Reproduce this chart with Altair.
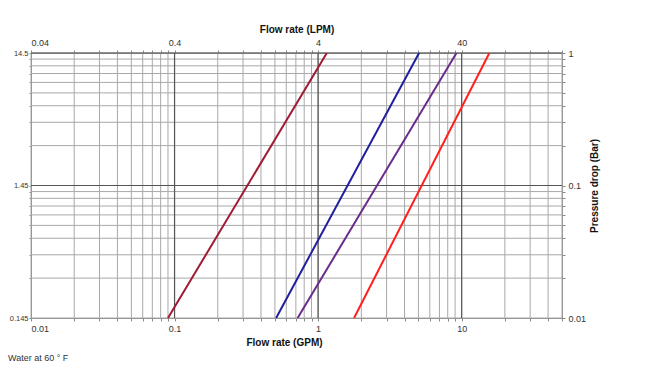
import altair as alt
import pandas as pd

# ---- data ----
series = ["Series 1", "Series 2", "Series 3", "Series 4"]
colors = ["#9e1b32", "#1f1f9e", "#6b2a8c", "#ff1f1f"]
gpm_at_low = [0.09, 0.51, 0.72, 1.78]     # flow (GPM) where curve hits 0.01 bar
gpm_at_high = [1.15, 5.05, 9.2, 15.6]     # flow (GPM) where curve hits 1 bar
bar_low = [0.01, 0.01, 0.01, 0.01]
bar_high = [1.0, 1.0, 1.0, 1.0]

x_minor = [0.01, 0.02, 0.03, 0.04, 0.05, 0.06, 0.07, 0.08, 0.09,
           0.1, 0.2, 0.3, 0.4, 0.5, 0.6, 0.7, 0.8, 0.9,
           1, 2, 3, 4, 5, 6, 7, 8, 9,
           10, 20, 30, 40, 50]
x_major = [0.1, 1, 10]
y_minor = [0.01, 0.02, 0.03, 0.04, 0.05, 0.06, 0.07, 0.08, 0.09,
           0.1, 0.2, 0.3, 0.4, 0.5, 0.6, 0.7, 0.8, 0.9, 1]
y_major = [0.1, 1]

x_label_vals = [0.01, 0.1, 1, 10]
gpm_labels = ["0.01", "0.1", "1", "10"]
lpm_labels = ["0.04", "0.4", "4", "40"]
y_label_vals = [0.01, 0.1, 1]
psi_labels = ["0.145", "1.45", "14.5"]
bar_labels = ["0.01", "0.1", "1"]


def label_expr(vals, labels):
    expr = "''"
    for v, l in reversed(list(zip(vals, labels))):
        expr = f"(abs(datum.value - {v}) < {v}*1e-6) ? '{l}' : ({expr})"
    return expr


rows = []
for s, a, b, lo, hi in zip(series, gpm_at_low, gpm_at_high, bar_low, bar_high):
    rows.append({"series": s, "gpm": a, "bar": lo})
    rows.append({"series": s, "gpm": b, "bar": hi})
lines_df = pd.DataFrame(rows)

FONT = "Liberation Sans"
xscale = alt.Scale(type="log", domain=[0.01, 50], nice=False)
yscale = alt.Scale(type="log", domain=[0.01, 1], nice=False)

common_axis = dict(grid=False, labelFont=FONT, labelFontSize=9, labelColor="#333",
                   titleFont=FONT, titleFontSize=10, titleFontWeight="bold",
                   titleColor="#111", domainColor="#888", tickColor="#888",
                   tickSize=3, labelPadding=3)

bottom_axis = alt.Axis(orient="bottom", values=x_minor,
                       labelExpr=label_expr(x_label_vals, gpm_labels),
                       title="Flow rate (GPM)", titlePadding=4, titleX=253,
                       **common_axis)
top_axis = alt.Axis(orient="top", values=x_minor,
                    labelExpr=label_expr(x_label_vals, lpm_labels),
                    title="Flow rate (LPM)", titlePadding=4, **common_axis)
left_axis = alt.Axis(orient="left", values=y_minor,
                     labelExpr=label_expr(y_label_vals, psi_labels),
                     title=None,
                     **{**common_axis, "labelFontSize": 7.5, "labelPadding": 1, "tickSize": 2})
right_axis = alt.Axis(orient="right", values=y_minor,
                      labelExpr=label_expr(y_label_vals, bar_labels),
                      title="Pressure drop (Bar)", titleAngle=270, titlePadding=14,
                      **common_axis)

vminor = alt.Chart(pd.DataFrame({"v": x_minor})).mark_rule(
    color="#a8a8a8", strokeWidth=1).encode(
    x=alt.X("v:Q", scale=xscale, axis=bottom_axis))
hminor = alt.Chart(pd.DataFrame({"v": y_minor})).mark_rule(
    color="#a8a8a8", strokeWidth=1).encode(
    y=alt.Y("v:Q", scale=yscale, axis=left_axis))
vmajor = alt.Chart(pd.DataFrame({"v": x_major})).mark_rule(
    color="#555", strokeWidth=1.2).encode(
    x=alt.X("v:Q", scale=xscale, axis=None))
hmajor = alt.Chart(pd.DataFrame({"v": y_major})).mark_rule(
    color="#555", strokeWidth=1.2).encode(
    y=alt.Y("v:Q", scale=yscale, axis=None))

curves = alt.Chart(lines_df).mark_line(strokeWidth=2).encode(
    x=alt.X("gpm:Q", scale=xscale, axis=top_axis),
    y=alt.Y("bar:Q", scale=yscale, axis=right_axis),
    color=alt.Color("series:N", scale=alt.Scale(domain=series, range=colors), legend=None),
    detail="series:N",
)

note = alt.Chart(pd.DataFrame({"t": ["Water at 60 ° F"]})).mark_text(
    align="left", baseline="middle", font=FONT, fontSize=9, color="#333").encode(
    x=alt.value(-23), y=alt.value(305), text="t:N")

chart = alt.layer(vminor, hminor, vmajor, hmajor, curves, note).resolve_axis(
    x="independent", y="independent"
).properties(
    width=531, height=265,
    autosize=alt.AutoSizeParams(type="none"),
    padding={"left": 23, "top": 45, "right": 70, "bottom": 50},
).configure_view(stroke="#888", strokeWidth=1)

chart.save("out.html", embed_options={"renderer": "svg", "actions": False})
